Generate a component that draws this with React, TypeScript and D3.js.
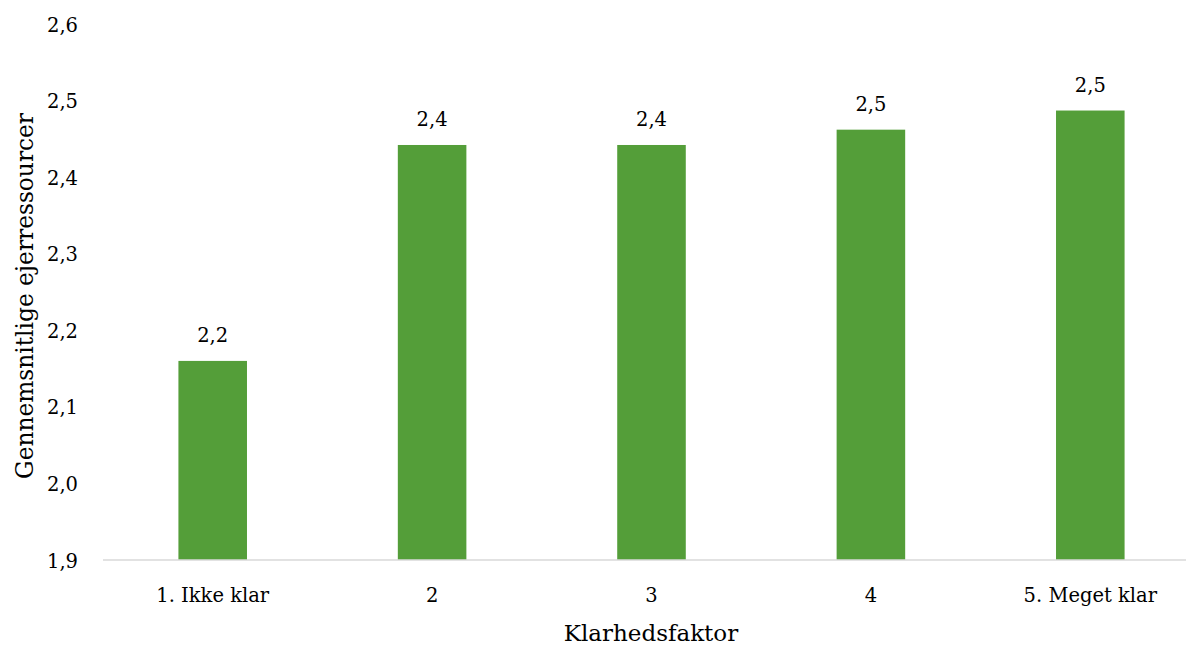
import React, { useEffect, useRef } from 'react';
import * as d3 from 'd3';

const categories = ['1. Ikke klar', '2', '3', '4', '5. Meget klar'];
const values = [2.16, 2.442, 2.442, 2.462, 2.487];
const yTicks = [1.9, 2.0, 2.1, 2.2, 2.3, 2.4, 2.5, 2.6];

const W = 1186;
const H = 648;
const FONT = '"DejaVu Serif", serif';

const App: React.FC = () => {
  const svgRef = useRef<SVGSVGElement>(null);

  useEffect(() => {
    if (!svgRef.current) return;
    const svg = d3.select(svgRef.current);
    svg.selectAll('*').remove();

    const locale = d3.formatLocale({ decimal: ',', thousands: '.', grouping: [3], currency: ['', ' kr.'] });
    const fmt = locale.format('.1f');

    const x = d3.scaleBand<string>().domain(categories).range([103, 1200]).padding(0);
    const y = d3.scaleLinear().domain([1.9, 2.6]).range([560, 24]);
    const barW = x.bandwidth() * 0.3125;

    // bars
    svg.append('g')
      .selectAll('rect')
      .data(values)
      .enter()
      .append('rect')
      .attr('x', (d, i) => x(categories[i])! + x.bandwidth() / 2 - barW / 2)
      .attr('y', d => y(d))
      .attr('width', barW)
      .attr('height', d => y(1.9) - y(d))
      .attr('fill', '#549e39');

    // baseline
    svg.append('line')
      .attr('x1', x.range()[0])
      .attr('x2', x.range()[1])
      .attr('y1', y(1.9))
      .attr('y2', y(1.9))
      .attr('stroke', '#d9d9d9')
      .attr('stroke-width', 1.5);

    // y tick labels
    svg.append('g')
      .selectAll('text')
      .data(yTicks)
      .enter()
      .append('text')
      .attr('x', 78)
      .attr('y', d => y(d) + 7.5)
      .attr('text-anchor', 'end')
      .attr('font-family', FONT)
      .attr('font-size', 19.5)
      .attr('fill', '#000')
      .text(d => fmt(d));

    // x tick labels
    svg.append('g')
      .selectAll('text')
      .data(categories)
      .enter()
      .append('text')
      .attr('x', d => x(d)! + x.bandwidth() / 2)
      .attr('y', 602)
      .attr('text-anchor', 'middle')
      .attr('font-family', FONT)
      .attr('font-size', 19.5)
      .attr('fill', '#000')
      .text(d => d);

    // data labels
    svg.append('g')
      .selectAll('text')
      .data(values)
      .enter()
      .append('text')
      .attr('x', (d, i) => x(categories[i])! + x.bandwidth() / 2)
      .attr('y', d => y(d) - 19)
      .attr('text-anchor', 'middle')
      .attr('font-family', FONT)
      .attr('font-size', 19.5)
      .attr('fill', '#000')
      .text(d => fmt(d));

    // axis titles
    svg.append('text')
      .attr('x', 651)
      .attr('y', 641)
      .attr('text-anchor', 'middle')
      .attr('font-family', FONT)
      .attr('font-size', 23)
      .attr('fill', '#000')
      .text('Klarhedsfaktor');

    svg.append('text')
      .attr('transform', `translate(33,296) rotate(-90)`)
      .attr('text-anchor', 'middle')
      .attr('font-family', FONT)
      .attr('font-size', 23.3)
      .attr('fill', '#000')
      .text('Gennemsnitlige ejerressourcer');
  }, []);

  return (
    <div style={{ position: 'absolute', left: 0, top: 0, width: W, height: H, overflow: 'hidden', background: '#fff' }}>
      <svg ref={svgRef} width={W} height={H} style={{ display: 'block' }}></svg>
    </div>
  );
};

export default App;
